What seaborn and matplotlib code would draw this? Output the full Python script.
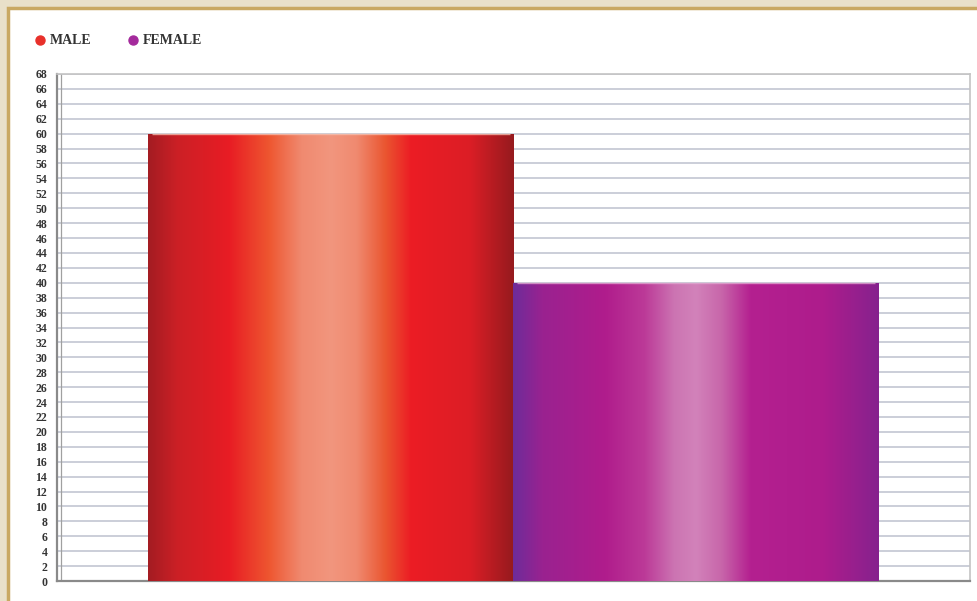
import numpy as np
import pandas as pd
import matplotlib
matplotlib.use("Agg")
import matplotlib.pyplot as plt
from matplotlib.colors import LinearSegmentedColormap
from matplotlib.lines import Line2D
from matplotlib.patches import Rectangle
import seaborn as sns

# Data
genders = ["MALE", "FEMALE"]
counts = [60, 40]
group = ["All", "All"]
y_ticks = list(range(0, 69, 2))

marker_colors = {"MALE": "#e8302a", "FEMALE": "#a42a9c"}

# Cylinder shading across the width of each bar
shades = {
    "MALE": [(0.0, "#a41c22"), (0.08, "#cc2026"), (0.22, "#e81c24"), (0.33, "#ee5630"),
             (0.42, "#f08a70"), (0.5, "#f2967e"), (0.57, "#f08a70"), (0.65, "#ea5530"),
             (0.72, "#ec1c24"), (0.88, "#dc1e26"), (1.0, "#961a1e")],
    "FEMALE": [(0.0, "#6e2c9a"), (0.08, "#9a2290"), (0.25, "#b01c8c"), (0.36, "#bc3a98"),
               (0.44, "#cc74b2"), (0.5, "#d282ba"), (0.57, "#c866aa"), (0.65, "#b42090"),
               (0.85, "#ae1c8c"), (1.0, "#86228e")],
}

df = pd.DataFrame({"group": group, "gender": genders, "count": counts})

sns.set_style("white")
plt.rcParams["font.family"] = ["Liberation Serif", "DejaVu Serif"]

fig = plt.figure(figsize=(9.78, 6.01), dpi=100, facecolor="#e9e0c9")
# white panel with gold border, kept behind the axes
fig.patches.append(Rectangle((8 / 978, -0.05), 1.1, 1 - 8 / 601 + 0.05,
                             transform=fig.transFigure, facecolor="white",
                             edgecolor="#c9a862", linewidth=2.5, zorder=-10))

ax = fig.add_axes([57 / 978, 1 - 581 / 601, (970 - 57) / 978, (581 - 74) / 601])
ax.set_zorder(1)
ax.set_facecolor("white")

sns.barplot(data=df, x="group", y="count", hue="gender", hue_order=genders,
            palette=marker_colors, width=0.8, errorbar=None, legend=False,
            ax=ax, zorder=3)

for patch, g in zip(ax.patches, genders):
    x0, w, h = patch.get_x(), patch.get_width(), patch.get_height()
    cmap = LinearSegmentedColormap.from_list(g, shades[g])
    grad = np.linspace(0, 1, 512)[None, :]
    im = ax.imshow(grad, cmap=cmap, extent=[x0, x0 + w, 0, h], aspect="auto",
                   zorder=3.5, interpolation="bicubic")
    im.set_clip_path(patch)
    patch.set_edgecolor("none")
    # thin rim at the top of the cylinder
    ax.plot([x0 + w * 0.01, x0 + w * 0.99], [h, h], color="#f4c0b0" if g == "MALE" else "#e0a8d0",
            lw=1.0, zorder=4, alpha=0.8, solid_capstyle="butt")

ax.set_xlim(-0.5, 0.5)
ax.set_ylim(0, 68)
ax.set_yticks(y_ticks)
ax.set_yticklabels([str(t) for t in y_ticks], fontsize=8.5, fontweight="bold", color="#333333")
ax.set_xticks([])
ax.set_xlabel("")
ax.set_ylabel("")
ax.tick_params(axis="y", length=0, pad=7)

ax.grid(axis="y", color="#c2c6d2", linewidth=1.2, zorder=1)
ax.set_axisbelow(True)

for side in ["left", "bottom"]:
    ax.spines[side].set_color("#8a8a8a")
    ax.spines[side].set_linewidth(1.6)
for side in ["top", "right"]:
    ax.spines[side].set_color("#c4c4c4")
    ax.spines[side].set_linewidth(1.2)
# inner wall line
ax.axvline(-0.4955, color="#a0a0a0", lw=0.9, zorder=2)

handles = [Line2D([], [], marker="o", linestyle="", markersize=6.5,
                  markerfacecolor=marker_colors[g], markeredgecolor=marker_colors[g])
           for g in genders]
fig.legend(handles, genders, loc="center left", bbox_to_anchor=(14 / 978, 1 - 41 / 601),
           ncol=2, frameon=False, handletextpad=-0.3, columnspacing=1.95,
           prop={"family": ["Liberation Serif"], "size": 10, "weight": "bold"},
           labelcolor="#333333")

fig.savefig("out.png", dpi=100, facecolor=fig.get_facecolor())
